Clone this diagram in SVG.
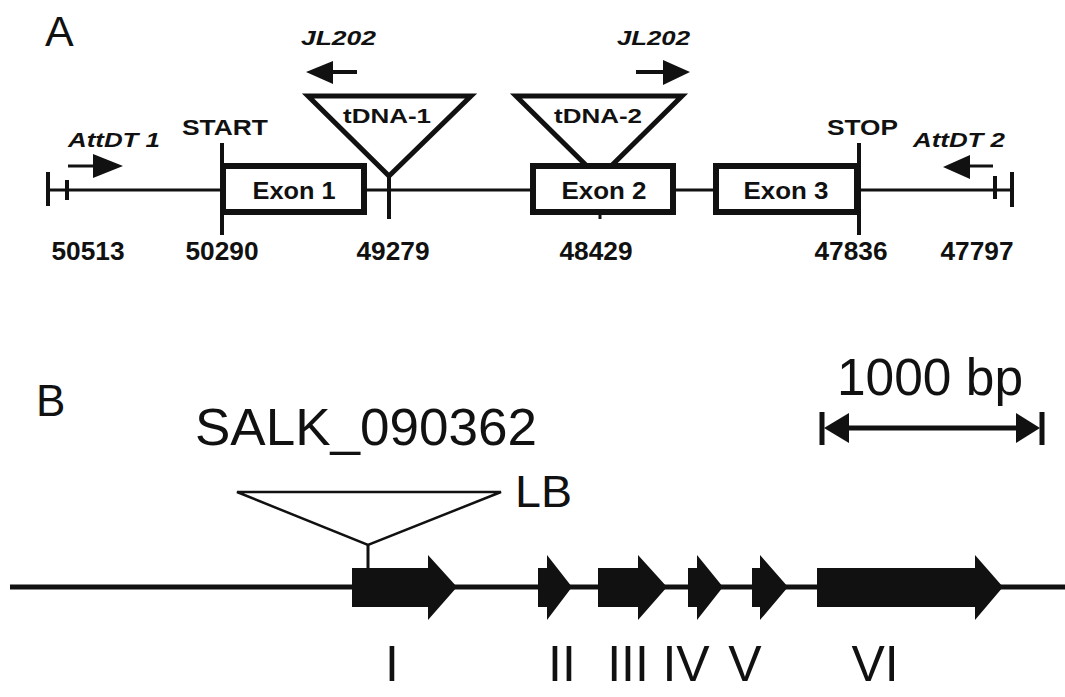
<svg xmlns="http://www.w3.org/2000/svg" width="1065" height="697" viewBox="0 0 1065 697">
<style>
text{font-family:"Liberation Sans",Arial,sans-serif;fill:#111}
.b{font-weight:bold}
.bi{font-weight:bold;font-style:italic}
.ln{stroke:#111;fill:none}
.exon{fill:#fff;stroke:#111;stroke-width:6}
.tri{fill:#fff;stroke:#111;stroke-width:5;stroke-linejoin:miter}
.gene{fill:#111}
.big{font-size:50px}
.num{font-size:25px;font-weight:bold}
</style>
<rect width="1065" height="697" fill="#fff"/>

<!-- Panel A -->
<text x="45" y="46" font-size="43">A</text>

<g id="connectors">
  <line class="ln" x1="47" y1="190" x2="1012" y2="190" stroke-width="3"/>
  <line class="ln" x1="10" y1="587" x2="1065" y2="587" stroke-width="5"/>
</g>

<g id="endLeft">
  <line class="ln" x1="48" y1="172" x2="48" y2="206" stroke-width="4"/>
  <line class="ln" x1="67" y1="180" x2="67" y2="200" stroke-width="4"/>
</g>
<g id="endRight">
  <line class="ln" x1="1012" y1="172" x2="1012" y2="207" stroke-width="4"/>
  <line class="ln" x1="995" y1="176" x2="995" y2="199" stroke-width="4"/>
</g>

<g id="attdt1">
  <text class="bi" x="68" y="147" font-size="20" textLength="92" lengthAdjust="spacingAndGlyphs">AttDT 1</text>
  <line class="ln" x1="68" y1="166" x2="95" y2="166" stroke-width="3"/>
  <polygon points="93,154 123,166 93,178" fill="#111"/>
</g>
<g id="attdt2">
  <text class="bi" x="913" y="147" font-size="20" textLength="92" lengthAdjust="spacingAndGlyphs">AttDT 2</text>
  <line class="ln" x1="968" y1="166" x2="993" y2="166" stroke-width="3"/>
  <polygon points="970,155 943,167 970,179" fill="#111"/>
</g>

<g id="start">
  <text class="b" x="182" y="135" font-size="22" textLength="86" lengthAdjust="spacingAndGlyphs">START</text>
  <line class="ln" x1="222" y1="143" x2="222" y2="235" stroke-width="4"/>
</g>
<g id="stop">
  <text class="b" x="827" y="135" font-size="22" textLength="71" lengthAdjust="spacingAndGlyphs">STOP</text>
  <line class="ln" x1="859" y1="143" x2="859" y2="235" stroke-width="4"/>
</g>

<g id="tdna1">
  <polygon class="tri" points="308,96 471,96 389,176"/>
  <line class="ln" x1="389" y1="174" x2="389" y2="219" stroke-width="4"/>
  <text class="b" x="387" y="123" font-size="21" text-anchor="middle" textLength="88" lengthAdjust="spacingAndGlyphs">tDNA-1</text>
</g>
<g id="tdna2">
  <polygon class="tri" points="516,96 682,96 599,178"/>
  <text class="b" x="598" y="123" font-size="21" text-anchor="middle" textLength="88" lengthAdjust="spacingAndGlyphs">tDNA-2</text>
</g>

<g id="jl202left">
  <text class="bi" x="301" y="45" font-size="20" textLength="75" lengthAdjust="spacingAndGlyphs">JL202</text>
  <line class="ln" x1="330" y1="72" x2="357" y2="72" stroke-width="4"/>
  <polygon points="333,61 306,72 333,84" fill="#111"/>
</g>
<g id="jl202right">
  <text class="bi" x="617" y="45" font-size="20" textLength="73" lengthAdjust="spacingAndGlyphs">JL202</text>
  <line class="ln" x1="636" y1="72" x2="666" y2="72" stroke-width="4"/>
  <polygon points="663,60 690,72 663,85" fill="#111"/>
</g>

<g id="exon1">
  <rect class="exon" x="223" y="166" width="141" height="46"/>
  <text class="b" x="294" y="199" font-size="24" text-anchor="middle" textLength="83" lengthAdjust="spacingAndGlyphs">Exon 1</text>
</g>
<g id="exon2">
  <rect class="exon" x="533" y="166" width="140" height="46"/>
  <line class="ln" x1="600" y1="212" x2="600" y2="219" stroke-width="3"/>
  <text class="b" x="604" y="199" font-size="24" text-anchor="middle" textLength="85" lengthAdjust="spacingAndGlyphs">Exon 2</text>
</g>
<g id="exon3">
  <rect class="exon" x="716" y="166" width="141" height="46"/>
  <text class="b" x="786" y="199" font-size="24" text-anchor="middle" textLength="85" lengthAdjust="spacingAndGlyphs">Exon 3</text>
</g>

<g id="coords">
  <text class="num" x="88" y="260" text-anchor="middle" textLength="73" lengthAdjust="spacingAndGlyphs">50513</text>
  <text class="num" x="222" y="260" text-anchor="middle" textLength="73" lengthAdjust="spacingAndGlyphs">50290</text>
  <text class="num" x="393" y="260" text-anchor="middle" textLength="73" lengthAdjust="spacingAndGlyphs">49279</text>
  <text class="num" x="596" y="260" text-anchor="middle" textLength="73" lengthAdjust="spacingAndGlyphs">48429</text>
  <text class="num" x="851" y="260" text-anchor="middle" textLength="73" lengthAdjust="spacingAndGlyphs">47836</text>
  <text class="num" x="977" y="260" text-anchor="middle" textLength="73" lengthAdjust="spacingAndGlyphs">47797</text>
</g>

<!-- Panel B -->
<text x="36" y="416" font-size="44">B</text>

<g id="scalebar">
  <text x="837" y="395" font-size="52" textLength="186" lengthAdjust="spacingAndGlyphs">1000 bp</text>
  <line class="ln" x1="830" y1="428" x2="1035" y2="428" stroke-width="5"/>
  <line class="ln" x1="822" y1="412" x2="822" y2="445" stroke-width="5"/>
  <line class="ln" x1="1042" y1="412" x2="1042" y2="445" stroke-width="5"/>
  <polygon points="824,428 849,413 849,443" fill="#111"/>
  <polygon points="1040,428 1016,413 1016,443" fill="#111"/>
</g>

<g id="salk">
  <text x="195" y="445" font-size="52" textLength="342" lengthAdjust="spacingAndGlyphs">SALK_090362</text>
  <polygon points="237,492 501,492 368,545" fill="#fff" stroke="#111" stroke-width="2.5"/>
  <line class="ln" x1="368" y1="545" x2="368" y2="572" stroke-width="3"/>
  <text x="515" y="507" font-size="44" textLength="57" lengthAdjust="spacingAndGlyphs">LB</text>
</g>

<g id="geneI">
  <polygon class="gene" points="352,568 428,568 428,555 457,587 428,620 428,607 352,607"/>
  <text class="big" x="392" y="681" text-anchor="middle">I</text>
</g>
<g id="geneII">
  <polygon class="gene" points="538,568 547,568 547,555 572,587 547,620 547,607 538,607"/>
  <text class="big" x="562" y="681" text-anchor="middle">II</text>
</g>
<g id="geneIII">
  <polygon class="gene" points="598,568 638,568 638,555 667,587 638,620 638,607 598,607"/>
  <text class="big" x="628" y="681" text-anchor="middle">III</text>
</g>
<g id="geneIV">
  <polygon class="gene" points="688,568 697,568 697,555 723,587 697,620 697,607 688,607"/>
  <text class="big" x="686" y="681" text-anchor="middle">IV</text>
</g>
<g id="geneV">
  <polygon class="gene" points="752,568 760,568 760,555 788,587 760,620 760,607 752,607"/>
  <text class="big" x="745" y="681" text-anchor="middle">V</text>
</g>
<g id="geneVI">
  <polygon class="gene" points="817,568 975,568 975,555 1003,587 975,620 975,607 817,607"/>
  <text class="big" x="875" y="681" text-anchor="middle">VI</text>
</g>
</svg>
